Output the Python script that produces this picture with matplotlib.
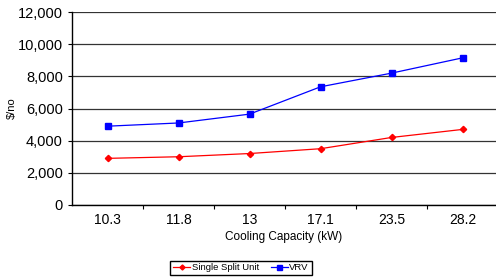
import matplotlib.pyplot as plt
import numpy as np

plt.rcParams['font.family'] = ['Liberation Sans', 'DejaVu Sans']

capacity = ['10.3', '11.8', '13', '17.1', '23.5', '28.2']
single_split = [2900, 3000, 3200, 3500, 4200, 4700]
vrv = [4900, 5100, 5650, 7350, 8200, 9150]

fig = plt.figure(figsize=(4.96, 2.78), dpi=100)
ax = fig.add_axes([72 / 496, 1 - 205 / 278, 1 - 72 / 496, 193 / 278])

x = np.arange(len(capacity))
ax.plot(x, single_split, color='#ff0000', lw=0.9, marker='D', ms=3.2, label='Single Split Unit')
ax.plot(x, vrv, color='#0000ff', lw=0.9, marker='s', ms=4.5, label='VRV')

ax.set_ylim(0, 12000)
ax.set_xlim(-0.5, 5.47)
ax.set_yticks(np.arange(0, 12001, 2000))
ax.set_yticklabels([f'{v:,}' for v in range(0, 12001, 2000)], fontsize=10.5)
ax.set_xticks(x)
ax.set_xticklabels(capacity, fontsize=10)
ax.tick_params(axis='x', length=0, pad=6)
ax.set_xticks(np.arange(0.5, 5.5, 1), minor=True)
ax.tick_params(axis='x', which='minor', length=3, width=0.8)
ax.tick_params(axis='y', length=3, width=0.8)
ax.yaxis.grid(True, color='#333333', lw=0.9)
ax.set_axisbelow(True)
for s in ['top', 'right']:
    ax.spines[s].set_visible(False)
ax.spines['left'].set_linewidth(1.0)
ax.spines['bottom'].set_linewidth(1.0)

ax.set_xlabel('Cooling Capacity (kW)', fontsize=8.5, labelpad=3)
ax.set_ylabel('$/no', fontsize=8)
ax.yaxis.set_label_coords(-0.13, 0.5)

fig.legend(loc='center', bbox_to_anchor=(241 / 496, 1 - 268 / 278), ncol=2, fontsize=6.8,
           frameon=True, fancybox=False, edgecolor='black', framealpha=1,
           borderpad=0.3, handlelength=1.8, columnspacing=1.2, handletextpad=0.2,
           markerscale=0.8)

fig.savefig('out.png', dpi=100)
